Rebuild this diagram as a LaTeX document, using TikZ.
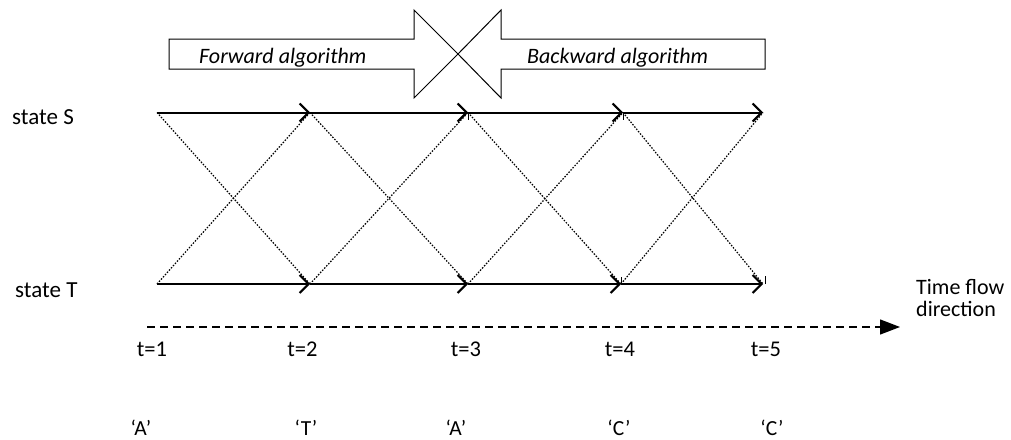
\documentclass[tikz,border=0pt]{standalone}
\usepackage{fontspec}
\setmainfont{Carlito}
\usetikzlibrary{arrows.meta,calc}
\begin{document}
\begin{tikzpicture}[x=1pt,y=-1pt,
  lbl/.style={font=\fontsize{23}{24}\selectfont, inner sep=0pt},
  qlbl/.style={font=\fontsize{21.5}{24}\selectfont, inner sep=0pt, anchor=base},
  tlbl/.style={font=\fontsize{22.5}{24}\selectfont, inner sep=0pt, anchor=base},
  alglbl/.style={font=\fontsize{22}{24}\selectfont\itshape, inner sep=0pt, anchor=base west},
  solidarrow/.style={line width=2pt, -{Straight Barb[length=9pt,width=18pt,line width=2pt]}},
  dotline/.style={line width=1.2pt, dash pattern=on 1.5pt off 1.5pt},
  bigarrow/.style={draw, line width=1pt, fill=white, line join=miter},
  tickmark/.style={line width=0.9pt},
  timearrow/.style={line width=1.3pt, dash pattern=on 8pt off 5pt, -{Triangle[length=20pt,width=15pt]}}]
\useasboundingbox (0,0) rectangle (1011,439);

% state points
\coordinate (S1) at (157,112.5);
\coordinate (S2) at (310,112.5);
\coordinate (S3) at (468,112.5);
\coordinate (S4) at (623,112.5);
\coordinate (S5) at (763,112.5);
\coordinate (T1) at (157,284);
\coordinate (T2) at (310,284);
\coordinate (T3) at (468,284);
\coordinate (T4) at (621,284);
\coordinate (T5) at (763,284);

% big arrows
\draw[bigarrow] (169,39) -- (414,39) -- (414,10) -- (458,54) -- (414,98) -- (414,69) -- (169,69) -- cycle;
\draw[bigarrow] (765,39) -- (501,39) -- (501,10) -- (458,54) -- (501,98) -- (501,69) -- (765,69) -- cycle;
\node[alglbl] (fwd) at (199,63) {Forward algorithm};
\node[alglbl] (bwd) at (527,63) {Backward algorithm};

% state labels
\node[lbl, anchor=base west] (stS) at (12,124) {state S};
\node[lbl, anchor=base west] (stT) at (15,297) {state T};

% dotted transitions
\draw[dotline] (S1) -- (T2);
\draw[dotline] (T1) -- (S2);
\draw[dotline] (S2) -- (T3);
\draw[dotline] (T2) -- (S3);
\draw[dotline] (S3) -- (T4);
\draw[dotline] (T3) -- (S4);
\draw[dotline] (S4) -- (T5);
\draw[dotline] (T4) -- (S5);

% small ticks
\draw[tickmark] (S3) -- ++(0,7);
\draw[tickmark] (S4) -- ++(0,7);
\draw[tickmark] (T4) -- ++(0,-7);
\draw[tickmark] ($(T5)+(2,0)$) -- ++(0,-8);

% solid arrows
\draw[solidarrow] (S1) -- (S2);
\draw[solidarrow] (S2) -- (S3);
\draw[solidarrow] (S3) -- (S4);
\draw[solidarrow] (S4) -- (S5);
\draw[solidarrow] (T1) -- (T2);
\draw[solidarrow] (T2) -- (T3);
\draw[solidarrow, line width=2.6pt] (T3) -- (T4);
\draw[solidarrow] (T4) -- (T5);

% time flow arrow
\coordinate (D0) at (147,327);
\coordinate (D1) at (900,327);
\draw[timearrow] (D0) -- (D1);
\node[font=\fontsize{22}{22.5}\selectfont, inner sep=0pt, anchor=base west, align=left] (tf) at (916,316.5) {Time flow\\direction};

% time labels
\node[tlbl] (t1) at (152,356) {t=1};
\node[tlbl] (t2) at (302.5,356) {t=2};
\node[tlbl] (t3) at (466,356) {t=3};
\node[tlbl] (t4) at (620,356) {t=4};
\node[tlbl] (t5) at (766,356) {t=5};

% symbols
\node[qlbl] (o1) at (141,435.5) {‘A’};
\node[qlbl] (o2) at (306,435.5) {‘T’};
\node[qlbl] (o3) at (456,435.5) {‘A’};
\node[qlbl] (o4) at (619,435.5) {‘C’};
\node[qlbl] (o5) at (772,435.5) {‘C’};
\end{tikzpicture}
\end{document}
